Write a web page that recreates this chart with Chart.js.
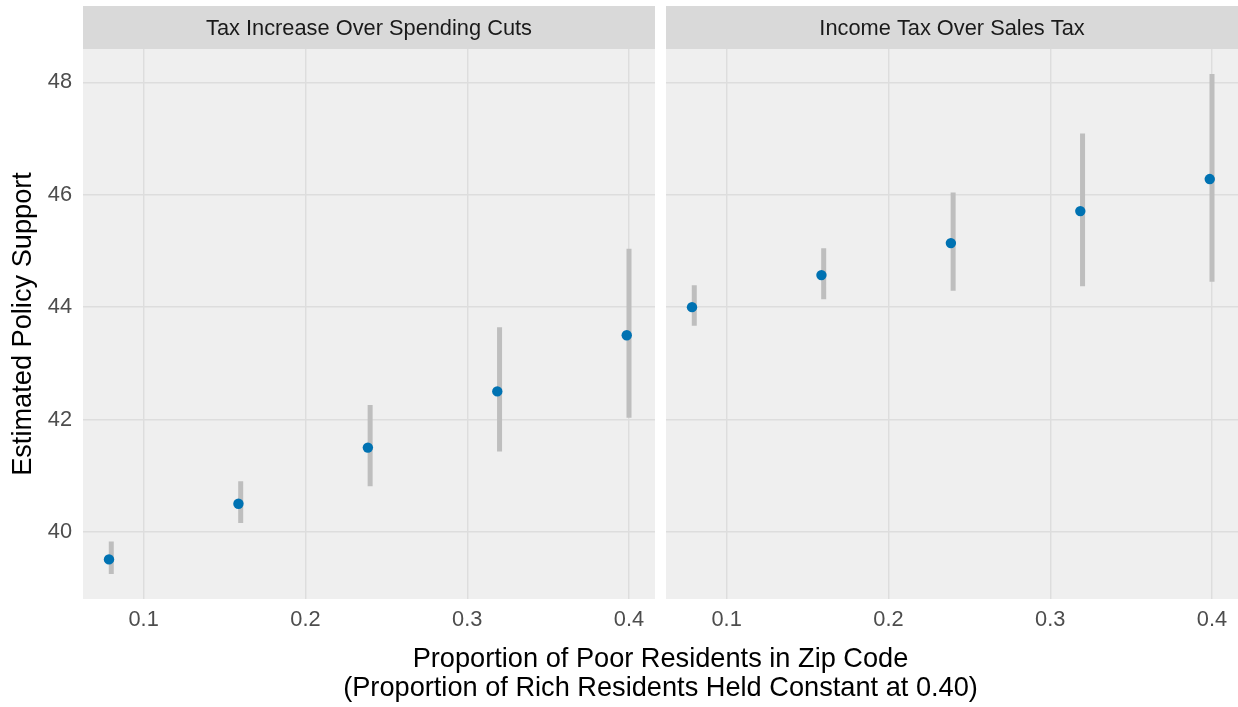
<!DOCTYPE html>
<html>
<head>
<meta charset="utf-8">
<script src="https://cdn.jsdelivr.net/npm/chart.js@4.4.1/dist/chart.umd.min.js"></script>
<style>
  html, body { margin: 0; padding: 0; background: #ffffff; }
  #wrap { position: relative; width: 1238px; height: 707px; }
  #wrap canvas { position: absolute; left: 0; top: 0; }
</style>
</head>
<body>
<div id="wrap">
  <canvas id="panelLeft" width="1238" height="707"></canvas>
  <canvas id="panelRight" width="1238" height="707"></canvas>
</div>
<script>
// Share of poor residents at which support was estimated (interval positions)
const poorShare = [0.08, 0.16, 0.24, 0.32, 0.40];
// Point estimates sit a hair to the left of their intervals
const pointShare = [0.0786, 0.1586, 0.2386, 0.3186, 0.3986];

const panelTitles = ['Tax Increase Over Spending Cuts', 'Income Tax Over Sales Tax'];

// Tax increase over spending cuts
const taxVsCutsEst  = [39.51, 40.50, 41.50, 42.50, 43.50];
const taxVsCutsLow  = [39.25, 40.16, 40.81, 41.43, 42.03];
const taxVsCutsHigh = [39.83, 40.90, 42.26, 43.64, 45.04];

// Income tax over sales tax
const incomeVsSalesEst  = [44.00, 44.57, 45.14, 45.71, 46.28];
const incomeVsSalesLow  = [43.67, 44.14, 44.29, 44.37, 44.45];
const incomeVsSalesHigh = [44.39, 45.05, 46.04, 47.09, 48.15];

const xTicks = [0.1, 0.2, 0.3, 0.4];
const yTicks = [40, 42, 44, 46, 48];

const yTitle = 'Estimated Policy Support';
const xTitle = ['Proportion of Poor Residents in Zip Code',
                '(Proportion of Rich Residents Held Constant at 0.40)'];

// ---- shared scale limits: data range expanded by 5% on each side ----
function expand(lo, hi) { const p = (hi - lo) * 0.05; return [lo - p, hi + p]; }
const [yMin, yMax] = expand(
  Math.min(...taxVsCutsLow, ...incomeVsSalesLow),
  Math.max(...taxVsCutsHigh, ...incomeVsSalesHigh));
const [xMin, xMax] = expand(Math.min(...pointShare, ...poorShare), Math.max(...pointShare, ...poorShare));

// ---- page geometry ----
const W = 1238, H = 707;
const PANEL_TOP = 49, PANEL_BOTTOM = 599, STRIP_TOP = 6;
const FONT = "'Liberation Sans', Arial, Helvetica, sans-serif";

const COL_PANEL = '#EFEFEF', COL_STRIP = '#D9D9D9', COL_GRID = '#DDDDDD';
const COL_POINT = '#0072B2', COL_BAR = '#BEBEBE';

function intervalSegments(xs, lo, hi) {
  const out = [];
  xs.forEach((x, i) => {
    out.push({ x: x, y: lo[i] }, { x: x, y: hi[i] }, { x: x, y: null });
  });
  return out;
}
function pointsOf(xs, ys) { return xs.map((x, i) => ({ x: x, y: ys[i] })); }

const panelDecor = {
  id: 'panelDecor',
  beforeDraw(chart, args, opts) {
    const { ctx, chartArea: a } = chart;
    ctx.save();
    ctx.fillStyle = COL_PANEL;
    ctx.fillRect(a.left, a.top, a.right - a.left, a.bottom - a.top);
    ctx.fillStyle = COL_STRIP;
    ctx.fillRect(a.left, STRIP_TOP, a.right - a.left, a.top - STRIP_TOP);
    ctx.fillStyle = '#1A1A1A';
    ctx.font = `21.8px ${FONT}`;
    ctx.textAlign = 'center';
    ctx.textBaseline = 'middle';
    ctx.fillText(opts.title, (a.left + a.right) / 2, (STRIP_TOP + a.top) / 2 + 1);
    ctx.restore();
  },
  afterDraw(chart, args, opts) {
    if (!opts.axisTitles) return;
    const { ctx } = chart;
    ctx.save();
    ctx.fillStyle = '#000000';
    ctx.font = `27.2px ${FONT}`;
    ctx.textAlign = 'center';
    ctx.textBaseline = 'middle';
    ctx.fillText(xTitle[0], 660.5, 660);
    ctx.fillText(xTitle[1], 660.5, 689);
    ctx.translate(24, (PANEL_TOP + PANEL_BOTTOM) / 2);
    ctx.rotate(-Math.PI / 2);
    ctx.fillText(yTitle, 0, 0);
    ctx.restore();
  }
};

// left/right: horizontal extent of the panel; yAxisWidth: room reserved for y tick labels
function makePanel(canvasId, title, est, lo, hi, left, right, yAxisWidth, axisTitles) {
  const showY = yAxisWidth > 0;
  return new Chart(document.getElementById(canvasId), {
    type: 'scatter',
    data: {
      datasets: [
        {
          label: 'estimate',
          data: pointsOf(pointShare, est),
          backgroundColor: COL_POINT,
          borderColor: COL_POINT,
          pointRadius: 5.2,
          pointBorderWidth: 0,
          pointHoverRadius: 5.2,
          order: 0
        },
        {
          label: 'interval',
          type: 'line',
          data: intervalSegments(poorShare, lo, hi),
          showLine: true,
          spanGaps: false,
          borderColor: COL_BAR,
          borderWidth: 5,
          borderCapStyle: 'butt',
          pointRadius: 0,
          pointHoverRadius: 0,
          fill: false,
          order: 1
        }
      ]
    },
    options: {
      responsive: false,
      devicePixelRatio: 1,
      animation: false,
      events: [],
      layout: {
        autoPadding: false,
        padding: { left: left - yAxisWidth, right: W - right, top: PANEL_TOP, bottom: 0 }
      },
      plugins: {
        legend: { display: false },
        tooltip: { enabled: false },
        panelDecor: { title: title, axisTitles: axisTitles }
      },
      scales: {
        x: {
          type: 'linear',
          min: xMin, max: xMax,
          afterBuildTicks: s => { s.ticks = xTicks.map(v => ({ value: v })); },
          afterFit: s => { s.height = H - PANEL_BOTTOM; },
          grid: { color: COL_GRID, lineWidth: 1.4, drawTicks: false },
          border: { display: false },
          ticks: {
            color: '#4D4D4D',
            font: { family: FONT, size: 21.8 },
            padding: 8,
            maxRotation: 0,
            callback: v => v.toFixed(1)
          }
        },
        y: {
          type: 'linear',
          min: yMin, max: yMax,
          afterBuildTicks: s => { s.ticks = yTicks.map(v => ({ value: v })); },
          afterFit: s => { s.width = yAxisWidth; },
          grid: { color: COL_GRID, lineWidth: 1.4, drawTicks: false },
          border: { display: false },
          ticks: {
            display: showY,
            color: '#4D4D4D',
            font: { family: FONT, size: 21.8 },
            padding: 11,
            callback: v => String(v)
          }
        }
      }
    },
    plugins: [panelDecor]
  });
}

// Left panel carries the y axis; the right one shares its scale.
makePanel('panelLeft', panelTitles[0], taxVsCutsEst, taxVsCutsLow, taxVsCutsHigh, 83, 655, 83, true);
makePanel('panelRight', panelTitles[1], incomeVsSalesEst, incomeVsSalesLow, incomeVsSalesHigh, 666, W, 0, false);
</script>
</body>
</html>
